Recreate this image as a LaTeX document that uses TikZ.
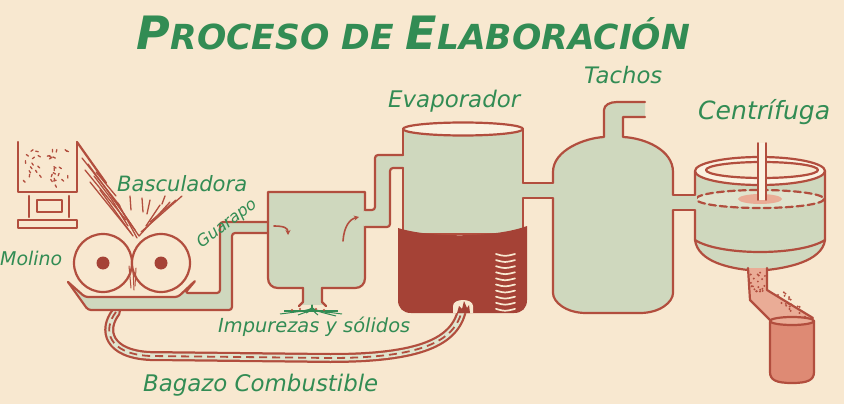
\documentclass[tikz,border=0pt]{standalone}
\usepackage{fontspec}
\usepackage{graphicx}
\setmainfont{DejaVu Sans}
\usetikzlibrary{arrows.meta}

\definecolor{paper}{RGB}{248,232,208}
\definecolor{paperlight}{RGB}{251,241,224}
\definecolor{rust}{RGB}{178,78,62}
\definecolor{ember}{RGB}{165,66,54}
\definecolor{sage}{RGB}{207,216,190}
\definecolor{sagelight}{RGB}{224,228,206}
\definecolor{leaf}{RGB}{50,140,84}
\definecolor{blush}{RGB}{234,172,150}
\definecolor{blushdeep}{RGB}{222,138,116}

% hand-lettered captions, stretched to a given width
\newcommand\lettering[2]{\resizebox{#1pt}{!}{\itshape #2}}
\newcommand\titlecap[1]{{\fontsize{40}{40}\selectfont #1}}

\tikzset{
  wall/.style={draw=rust, line width=2.2pt, line join=round, line cap=round},
  tank/.style={wall, fill=sage},
  flow/.style={fill=sage},
  tagtext/.style={text=leaf, inner sep=0pt, anchor=base west},
  cane/.style={draw=rust, line width=1.3pt, line cap=round},
  swirl/.style={draw=rust, line width=1.6pt, line cap=round, -{Stealth[length=5pt,width=5pt]}},
}

\begin{document}
\begin{tikzpicture}[x=1pt,y=-1pt]
\fill[paper] (0,0) rectangle (844,404);
\useasboundingbox (0,0) rectangle (844,404);

% ---------- title ----------
\node[text=leaf, inner sep=0pt, anchor=base] (title) at (413.5,50)
  {\resizebox{553pt}{!}{\bfseries\itshape\fontsize{30}{30}\selectfont
   \titlecap{P}ROCESO DE \titlecap{E}LABORACIÓN}};

% ---------- bagasse rope back to the furnace ----------
\draw[rust, line width=10pt, line cap=round]
  (116,312) .. controls (102,330) and (108,354) .. (150,356)
  -- (330,358) .. controls (420,358) and (455,342) .. (462,310);
\draw[sagelight, line width=5.5pt, line cap=round]
  (116,312) .. controls (102,330) and (108,354) .. (150,356)
  -- (330,358) .. controls (420,358) and (455,342) .. (462,310);
\draw[rust, line width=1.8pt, dash pattern=on 8pt off 5pt]
  (116,312) .. controls (102,330) and (108,354) .. (150,356)
  -- (330,358) .. controls (420,358) and (455,342) .. (462,310);

% ---------- tipping cart ----------
\draw[wall] (18,142) -- (18,192) -- (77,192) -- (77,142);
\draw[wall] (29,196) -- (29,217) (69,196) -- (69,217);
\draw[wall] (37,200) rectangle (62,212);
\draw[wall] (18,220) rectangle (77,228);
\pgfmathsetseed{11}
\foreach \i in {1,...,34}{
  \pgfmathsetmacro\px{23+rnd*49}
  \pgfmathsetmacro\py{148+rnd*39}
  \pgfmathsetmacro\pa{rnd*180}
  \draw[cane] (\px,\py) -- ++(\pa:2.6);
}

% cane sliding down the chute into the mill
\draw[wall] (77,142) -- (106,183);
\foreach \a/\b/\c/\d in {
  82/158/120/206, 85/170/126/220, 90/182/131/233, 100/190/133/236,
  110/194/135/230, 118/203/137/238, 94/176/112/200, 104/186/124/214,
  124/214/139/236, 182/196/141/232, 170/202/139/236, 160/205/146/226,
  150/200/147/214, 142/198/143/212, 165/196/162/204, 130/196/131/210,
  88/164/104/186, 96/172/116/196, 112/200/128/226, 176/200/150/222}
  \draw[cane] (\a,\b) -- (\c,\d);

% ---------- trough and juice pipe ----------
\fill[flow, rounded corners=3pt]
  (68,282) -- (88,310) -- (232,310) -- (232,233) -- (271,233)
  -- (271,222) -- (220,222) -- (220,293) -- (185,293) -- (196,280)
  -- (178,297) -- (85,297) -- cycle;

% ---------- mill rollers ----------
\draw[wall, fill=paper] (103,263) circle (29);
\draw[wall, fill=paper] (161,263) circle (29);
\fill[ember] (103,263) circle (6.5);
\fill[ember] (161,263) circle (6.5);
\foreach \a/\b/\c/\d in {129/266/131/288, 133/270/134/290, 136/268/135/286}
  \draw[cane, line width=1pt] (\a,\b) -- (\c,\d);

% ---------- clarifier ----------
\fill[flow] (302,286) rectangle (323,305);
\draw[tank] (303,288) -- (278,288) .. controls (272,288) and (268,284) .. (268,278)
  -- (268,192) -- (365,192) -- (365,278) .. controls (365,284) and (361,288) .. (355,288)
  -- (322,288);
\draw[wall] (303,288) -- (303,302) -- (299,306);
\draw[wall] (322,288) -- (322,302) -- (326,306);
% settled impurities
\foreach \a/\b in {280/314, 290/312, 298/315, 306/313, 318/315, 330/313, 342/314, 336/316}
  \draw[leaf, line width=1pt] (312,305) .. controls (312,310) .. (\a,\b);
\draw[leaf, line width=1.2pt] (284,311) -- (338,311);
\foreach \a/\b in {300/309, 316/309, 324/310, 292/310}
  \fill[rust] (\a,\b) circle (1.2);

% pipe walls (drawn over the tank so the joints stay open)
\draw[wall, rounded corners=3pt] (68,282) -- (88,310) -- (232,310) -- (232,233) -- (268,233);
\draw[wall, rounded corners=3pt] (268,222) -- (220,222) -- (220,293) -- (185,293)
  -- (196,280) -- (178,297) -- (85,297) -- (68,282);

% flow arrows inside the clarifier
\draw[swirl] (274,226) .. controls (284,226) and (288,228) .. (288,235);
\draw[swirl] (343,241) .. controls (344,226) and (350,219) .. (359,217);

% ---------- evaporator ----------
\draw[tank] (403,129) -- (403,234) -- (523,234) -- (523,129);
\draw[wall, fill=paperlight] (463,129) ellipse [x radius=60, y radius=6.5];
\fill[ember] (398,228) .. controls (430,238) and (495,238) .. (527,226)
  -- (527,300) .. controls (527,308) and (522,313) .. (514,313)
  -- (411,313) .. controls (403,313) and (398,308) .. (398,300) -- cycle;
\foreach \k in {0,...,9}
  \draw[paper, line width=1.7pt, line cap=round]
    (496,{254+6.1*\k}) .. controls (505,{256.5+6.1*\k}) .. (515,{254+6.1*\k});
% furnace mouth
\fill[paper] (453,313) -- (453,306) .. controls (453,298) and (473,298) .. (473,306)
  -- (473,313) -- cycle;
\fill[ember] (457,313) -- (459,306) -- (462,309) -- (464,301) -- (467,308)
  -- (469,305) -- (470,313) -- cycle;

% clarifier -> evaporator pipe
\fill[flow, rounded corners=3pt] (363,210) -- (375,210) -- (375,155) -- (405,155)
  -- (405,168) -- (390,168) -- (390,227) -- (363,227) -- cycle;
\draw[wall, rounded corners=3pt] (365,210) -- (375,210) -- (375,155) -- (403,155);
\draw[wall, rounded corners=3pt] (365,227) -- (390,227) -- (390,168) -- (403,168);

% ---------- vacuum pan ----------
\filldraw[tank] (645,117) -- (623,117) -- (623,137)
  .. controls (645,138) and (673,150) .. (673,172)
  -- (673,293) .. controls (673,302) and (660,313) .. (640,313)
  -- (586,313) .. controls (566,313) and (553,302) .. (553,293)
  -- (553,172) .. controls (553,150) and (585,138) .. (604,137)
  -- (604,110) .. controls (604,105) and (610,102) .. (617,102) -- (645,102);

% evaporator -> pan pipe
\fill[flow] (521,183) rectangle (555,198);
\draw[wall] (523,183) -- (553,183) (523,198) -- (553,198);

% ---------- centrifuge ----------
\filldraw[tank] (695,171) -- (695,240)
  .. controls (698,262) and (730,268) .. (748,270) -- (767,270)
  .. controls (785,268) and (822,262) .. (825,240) -- (825,171);
\draw[wall, fill=paperlight] (760,171) ellipse [x radius=65, y radius=14];
\draw[wall, fill=paper] (762,170) ellipse [x radius=56, y radius=8];
\fill[sagelight] (760,199) ellipse [x radius=63, y radius=8];
\fill[blush] (760,199) ellipse [x radius=22, y radius=5];
\draw[wall, dash pattern=on 7pt off 4pt] (760,199) ellipse [x radius=64, y radius=9];
\draw[wall] (695,240) .. controls (720,256) and (800,256) .. (825,240);
\fill[paperlight] (758,143) rectangle (766,200);
\draw[wall, line width=1.6pt] (758,143) -- (758,200) (766,143) -- (766,200);

% pan -> centrifuge pipe
\fill[flow] (671,195) rectangle (697,210);
\draw[wall] (673,195) -- (695,195) (673,210) -- (695,210);

% sugar chute and collecting can
\fill[blush] (748,268) -- (750,300) -- (772,322) -- (813,318) -- (767,290) -- (767,268) -- cycle;
\pgfmathsetseed{5}
\foreach \i in {1,...,40}{
  \pgfmathsetmacro\t{rnd}
  \pgfmathsetmacro\s{rnd}
  \fill[rust] ({750+\s*15+\t*(\t>0.45)*45},{272+\t*45}) circle (1.1);
}
\draw[wall] (748,268) -- (750,300) -- (772,322);
\draw[wall] (767,268) -- (767,290) -- (813,318);
\filldraw[wall, fill=blushdeep] (770,322) -- (770,372)
  .. controls (770,380) and (776,383) .. (792,383)
  .. controls (808,383) and (814,380) .. (814,372) -- (814,321);
\draw[wall, fill=blush] (792,321) ellipse [x radius=22, y radius=4];

% ---------- captions ----------
\node[tagtext] (molino)     at (0,265)   {\lettering{62}{Molino}};
\node[tagtext] (bascula)    at (117,191) {\lettering{130}{Basculadora}};
\node[text=leaf, inner sep=0pt, rotate=37] (guarapo) at (227,224) {\lettering{70}{Guarapo}};
\node[tagtext] (evap)       at (388,107) {\lettering{132}{Evaporador}};
\node[tagtext] (tachos)     at (584,84)  {\lettering{78}{Tachos}};
\node[tagtext] (centri)     at (698,119) {\lettering{132}{Centrífuga}};
\node[tagtext] (impurezas)  at (218,332) {\lettering{192}{Impurezas y sólidos}};
\node[tagtext] (bagazo)     at (143,391) {\lettering{235}{Bagazo Combustible}};
\end{tikzpicture}
\end{document}
